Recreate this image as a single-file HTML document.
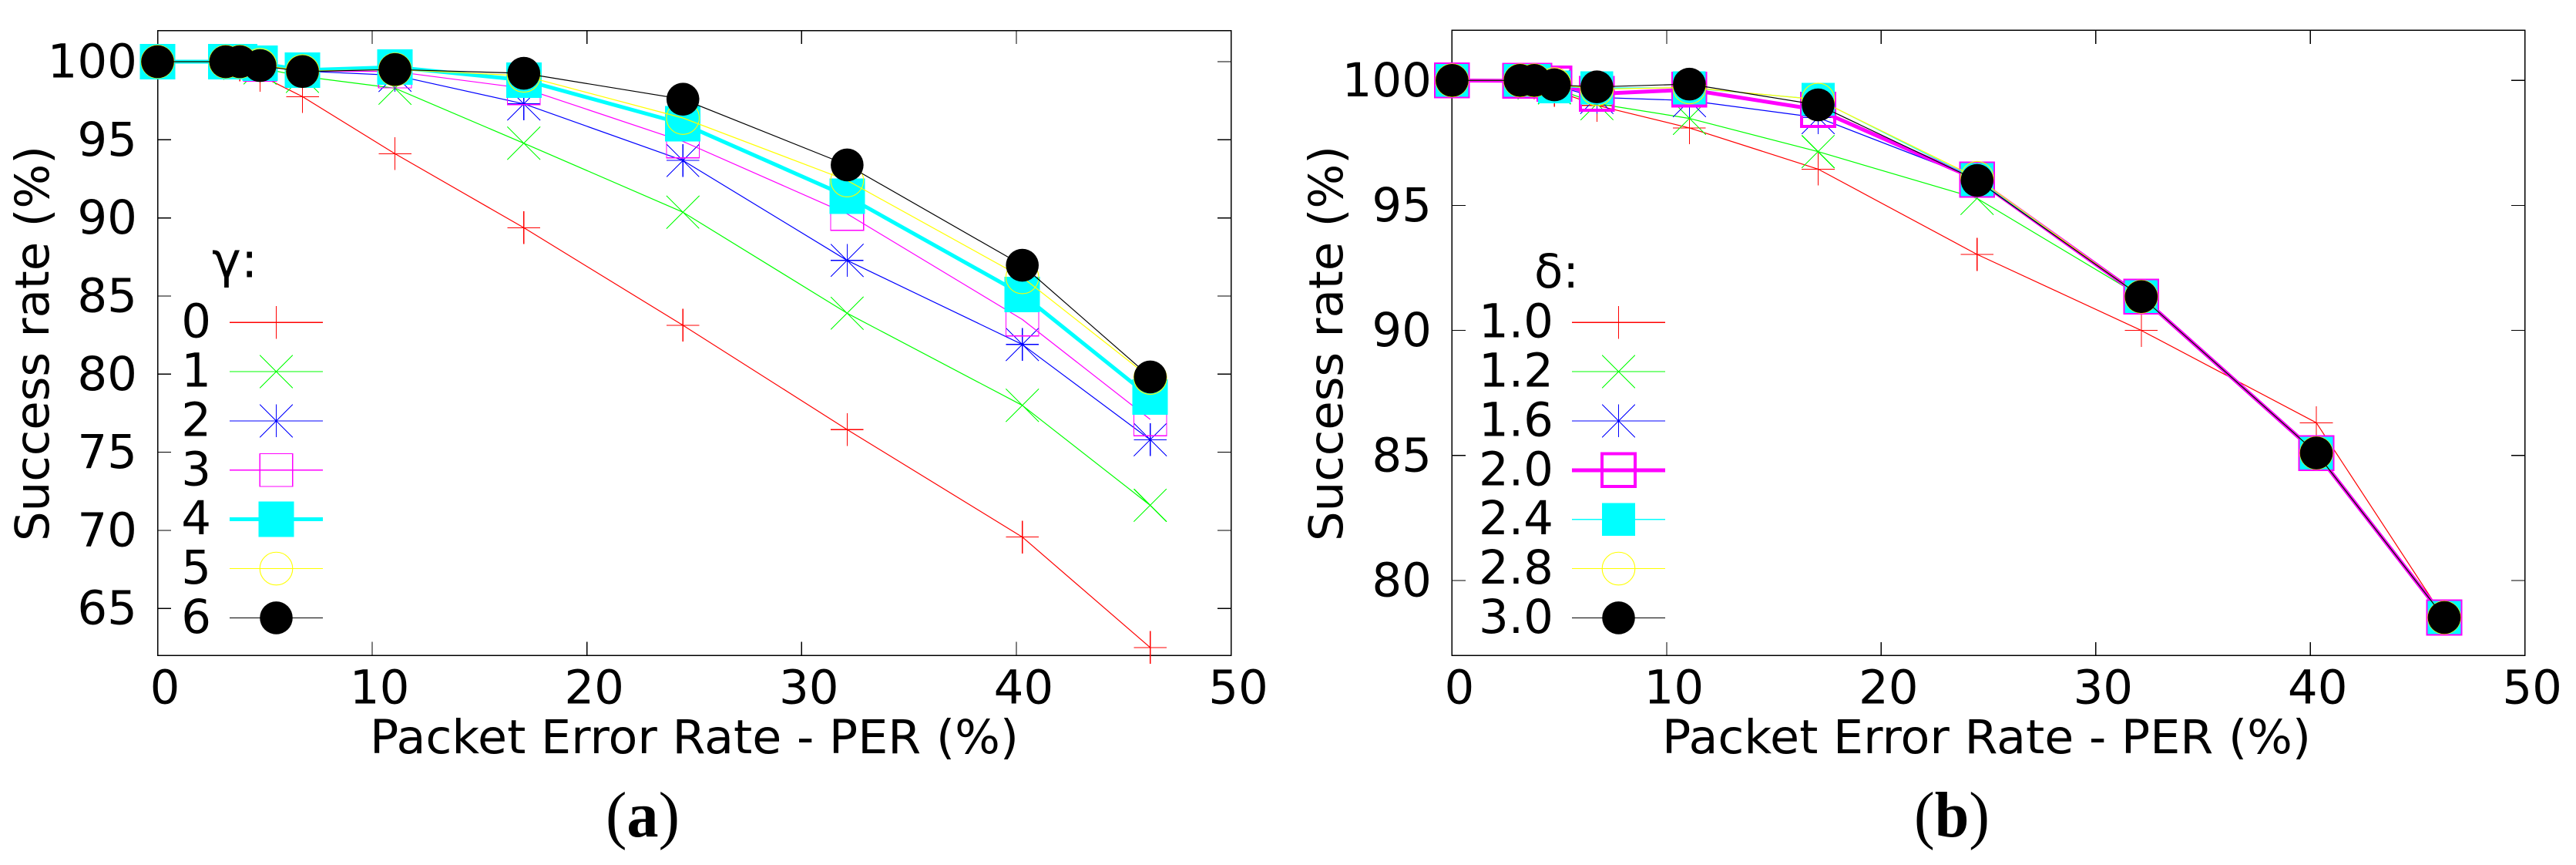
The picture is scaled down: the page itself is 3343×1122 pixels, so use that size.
<!DOCTYPE html>
<html lang="en">
<head>
<meta charset="utf-8">
<title>Success rate vs packet error rate</title>
<style>
html,body{margin:0;padding:0;background:#fff;}
svg{display:block;}
text{font-family:"DejaVu Sans","Liberation Sans",sans-serif;fill:#000;}
.caption{font-family:"Liberation Serif",serif;font-size:84px;}
</style>
</head>
<body>
<svg id="figure" xmlns="http://www.w3.org/2000/svg" width="3343" height="1122" viewBox="0 0 3343 1122">
  <rect x="0" y="0" width="3343" height="1122" fill="#fff"/>
  <g id="panel-a"></g>
  <g id="panel-b"></g>
  <text x="480" y="977" font-size="61" textLength="842" lengthAdjust="spacingAndGlyphs">Packet Error Rate - PER (%)</text>
  <text x="2157" y="977" font-size="61" textLength="842" lengthAdjust="spacingAndGlyphs">Packet Error Rate - PER (%)</text>
  <text transform="translate(63,702) rotate(-90)" x="0" y="0" font-size="61" textLength="513" lengthAdjust="spacingAndGlyphs">Success rate (%)</text>
  <text transform="translate(1742,702) rotate(-90)" x="0" y="0" font-size="61" textLength="513" lengthAdjust="spacingAndGlyphs">Success rate (%)</text>
  <text x="275" y="359.5" font-size="64">γ:</text>
  <text x="1991" y="373" font-size="61">δ:</text>
  <text class="caption" x="786" y="1085" textLength="96" lengthAdjust="spacingAndGlyphs">(<tspan font-weight="bold">a</tspan>)</text>
  <text class="caption" x="2484" y="1085" textLength="98" lengthAdjust="spacingAndGlyphs">(<tspan font-weight="bold">b</tspan>)</text>
</svg>
<script>
// ---- Chart data ----
const perValues = [0, 3.17, 3.83, 4.77, 6.75, 11.06, 17.06, 24.47, 32.12, 40.28, 46.24];

const gammaLabels = ['0', '1', '2', '3', '4', '5', '6'];
const gamma0 = [100, 100, 99.8, 99.13, 97.76, 94.11, 89.37, 83.13, 76.45, 69.57, 62.5];
const gamma1 = [100, 100, 99.9, 99.6, 99.06, 98.3, 94.78, 90.37, 83.9, 78, 71.6];
const gamma2 = [100, 100, 99.95, 99.8, 99.4, 99.13, 97.3, 93.68, 87.28, 81.9, 75.8];
const gamma3 = [100, 100, 99.95, 99.8, 99.4, 99.37, 98.3, 94.9, 90.26, 83.5, 77.1];
const gamma4 = [100, 100, 100, 99.9, 99.46, 99.65, 98.82, 96.03, 91.38, 85.1, 78.53];
const gamma5 = [100, 100, 100, 99.8, 99.4, 99.5, 99.1, 96.4, 92.4, 86.2, 79.76];
const gamma6 = [100, 100, 100, 99.75, 99.37, 99.5, 99.26, 97.6, 93.39, 86.97, 79.82];

const deltaLabels = ['1.0', '1.2', '1.6', '2.0', '2.4', '2.8', '3.0'];
const delta10 = [100, 100, 99.9, 99.6, 99.0, 98.1, 96.45, 93.04, 90.0, 86.31, 78.5];
const delta12 = [100, 100, 99.9, 99.7, 99.07, 98.48, 97.15, 95.28, 91.35, 85.1, 78.52];
const delta16 = [100, 100, 99.95, 99.8, 99.32, 99.19, 98.51, 96.05, 91.35, 85.1, 78.52];
const delta20 = [100, 99.98, 99.98, 99.87, 99.46, 99.63, 98.82, 96.03, 91.35, 85.1, 78.52];
const delta24 = [100, 100, 100, 99.74, 99.7, 99.7, 99.24, 96.03, 91.35, 85.1, 78.52];
const delta28 = [100, 100, 100, 99.85, 99.65, 99.72, 99.23, 96.1, 91.35, 85.1, 78.52];
const delta30 = [100, 100, 100, 99.82, 99.74, 99.85, 99.02, 96, 91.35, 85.1, 78.52];

const xTickLabels = [0, 10, 20, 30, 40, 50];
const yTickLabelsA = [65, 70, 75, 80, 85, 90, 95, 100];
const yTickLabelsB = [80, 85, 90, 95, 100];

// ---- Rendering ----
const NS = 'http://www.w3.org/2000/svg';
const colors = ['#ff0000', '#00ff00', '#0000ff', '#ff00ff', '#00ffff', '#ffff00', '#000000'];
const shapes = ['plus', 'cross', 'star', 'box', 'filledBox', 'circle', 'filledCircle'];

function mk(tag, parent) {
  const el = document.createElementNS(NS, tag);
  parent.appendChild(el);
  return el;
}

function addStroke(el, color, width) {
  el.setAttribute('fill', 'none');
  el.setAttribute('stroke', color);
  el.setAttribute('stroke-width', width);
  el.setAttribute('shape-rendering', 'crispEdges');
}

function drawMarker(parent, shape, cx, cy, color, opts) {
  const g = mk('g', parent);
  
  
  const r = opts.r;
  const seg = function (x1, y1, x2, y2) {
    const l = mk('line', g);
    l.setAttribute('x1', cx + x1);
    l.setAttribute('y1', cy + y1);
    l.setAttribute('x2', cx + x2);
    l.setAttribute('y2', cy + y2);
    addStroke(l, color, 1.1);
  };
  if (shape === 'plus' || shape === 'star') {
    seg(-r, 0, r, 0);
    seg(0, -r, 0, r);
  }
  if (shape === 'cross' || shape === 'star') {
    seg(-r, -r, r, r);
    seg(-r, r, r, -r);
  }
  if (shape === 'box') {
    const b = mk('rect', g);
    b.setAttribute('x', cx - r);
    b.setAttribute('y', cy - r);
    b.setAttribute('width', 2 * r);
    b.setAttribute('height', 2 * r);
    addStroke(b, color, opts.boxStroke);
  }
  if (shape === 'filledBox') {
    const h = opts.fillHalf;
    const b = mk('rect', g);
    b.setAttribute('x', cx - h);
    b.setAttribute('y', cy - h);
    b.setAttribute('width', 2 * h);
    b.setAttribute('height', 2 * h);
    b.setAttribute('fill', color);
    b.setAttribute('shape-rendering', 'crispEdges');
  }
  if (shape === 'circle' || shape === 'filledCircle') {
    const c = mk('circle', g);
    c.setAttribute('cx', cx);
    c.setAttribute('cy', cy);
    c.setAttribute('r', r);
    if (shape === 'circle') {
      c.setAttribute('fill', 'none');
      c.setAttribute('stroke', color);
      c.setAttribute('stroke-width', 1.1);
    } else {
      c.setAttribute('fill', color);
    }
  }
}

function drawPanel(root, cfg) {
  const xOf = function (v) { return cfg.left + (v - cfg.xMin) / (cfg.xMax - cfg.xMin) * (cfg.right - cfg.left); };
  const yOf = function (v) { return cfg.top + (cfg.yMax - v) / (cfg.yMax - cfg.yMin) * (cfg.bottom - cfg.top); };
  const tickLen = 17.5;

  // ticks and tick labels
  cfg.xTicks.forEach(function (t) {
    const x = xOf(t);
    [[cfg.top, cfg.top + tickLen], [cfg.bottom, cfg.bottom - tickLen]].forEach(function (p) {
      const l = mk('line', root);
      
      
      l.setAttribute('x1', x);
      l.setAttribute('x2', x);
      l.setAttribute('y1', p[0]);
      l.setAttribute('y2', p[1]);
      addStroke(l, '#000', 1.2);
    });
    const txt = mk('text', root);
    
    
    txt.setAttribute('x', x + 9.5);
    txt.setAttribute('y', 912.5);
    txt.setAttribute('font-size', 61);
    txt.setAttribute('text-anchor', 'middle');
    txt.textContent = String(t);
  });
  cfg.yTicks.forEach(function (t) {
    const y = yOf(t);
    [[cfg.left, cfg.left + tickLen], [cfg.right, cfg.right - tickLen]].forEach(function (p) {
      const l = mk('line', root);
      
      
      l.setAttribute('x1', p[0]);
      l.setAttribute('x2', p[1]);
      l.setAttribute('y1', y);
      l.setAttribute('y2', y);
      addStroke(l, '#000', 1.2);
    });
    const txt = mk('text', root);
    
    
    txt.setAttribute('x', cfg.yLabelRight);
    txt.setAttribute('y', y + 20.5);
    txt.setAttribute('font-size', 61);
    txt.setAttribute('text-anchor', 'end');
    txt.textContent = String(t);
  });

  // series
  cfg.series.forEach(function (values, s) {
    const g = mk('g', root);
    
    
    const pts = values.map(function (v, i) { return xOf(cfg.xs[i]).toFixed(1) + ',' + yOf(v).toFixed(1); }).join(' ');
    const line = mk('polyline', g);
    
    
    line.setAttribute('points', pts);
    line.setAttribute('fill', 'none');
    line.setAttribute('stroke', colors[s]);
    line.setAttribute('stroke-width', s === cfg.thick ? 5 : 1.2);
    line.setAttribute('stroke-linejoin', 'round');
    values.forEach(function (v, i) {
      drawMarker(g, shapes[s], xOf(cfg.xs[i]), yOf(v), colors[s], cfg.marker);
    });
  });

  // legend
  cfg.labels.forEach(function (lab, s) {
    const y = cfg.legendTop + s * cfg.legendStep;
    const g = mk('g', root);
    
    
    const txt = mk('text', g);
    
    
    txt.setAttribute('x', cfg.legendTextRight);
    txt.setAttribute('y', y + 19.5);
    txt.setAttribute('font-size', 61);
    txt.setAttribute('text-anchor', 'end');
    txt.textContent = lab;
    const l = mk('line', g);
    
    
    l.setAttribute('x1', cfg.legendX1);
    l.setAttribute('x2', cfg.legendX2);
    l.setAttribute('y1', y);
    l.setAttribute('y2', y);
    addStroke(l, colors[s], s === cfg.thick ? 5 : 1.2);
    drawMarker(g, shapes[s], (cfg.legendX1 + cfg.legendX2) / 2, y, colors[s], cfg.marker);
  });

  // frame sits beneath the series
  const frame = mk('rect', root);
  
  
  frame.setAttribute('x', cfg.left);
  frame.setAttribute('y', cfg.top);
  frame.setAttribute('width', cfg.right - cfg.left);
  frame.setAttribute('height', cfg.bottom - cfg.top);
  addStroke(frame, '#000', 1.5);
  root.insertBefore(frame, root.firstChild);
}

drawPanel(document.getElementById('panel-a'), {
  left: 204.5, right: 1597.5, top: 39.5, bottom: 850,
  xMin: 0, xMax: 50, yMin: 62, yMax: 102,
  xs: perValues, xTicks: xTickLabels, yTicks: yTickLabelsA,
  series: [gamma0, gamma1, gamma2, gamma3, gamma4, gamma5, gamma6],
  labels: gammaLabels, seriesPrefix: 'gamma', thick: 4,
  yLabelRight: 178,
  marker: { r: 21.3, boxStroke: 1.2, fillHalf: 23 },
  legendTop: 418.2, legendStep: 63.87,
  legendTextRight: 274, legendX1: 298, legendX2: 419
});

drawPanel(document.getElementById('panel-b'), {
  left: 1884.4, right: 3276.7, top: 39.4, bottom: 850.3,
  xMin: 0, xMax: 50, yMin: 77, yMax: 102,
  xs: perValues, xTicks: xTickLabels, yTicks: yTickLabelsB,
  series: [delta10, delta12, delta16, delta20, delta24, delta28, delta30],
  labels: deltaLabels, seriesPrefix: 'delta', thick: 3,
  yLabelRight: 1858,
  marker: { r: 21.3, boxStroke: 4, fillHalf: 21.3 },
  legendTop: 418.2, legendStep: 63.87,
  legendTextRight: 2016, legendX1: 2040, legendX2: 2161
});
</script>
</body>
</html>
